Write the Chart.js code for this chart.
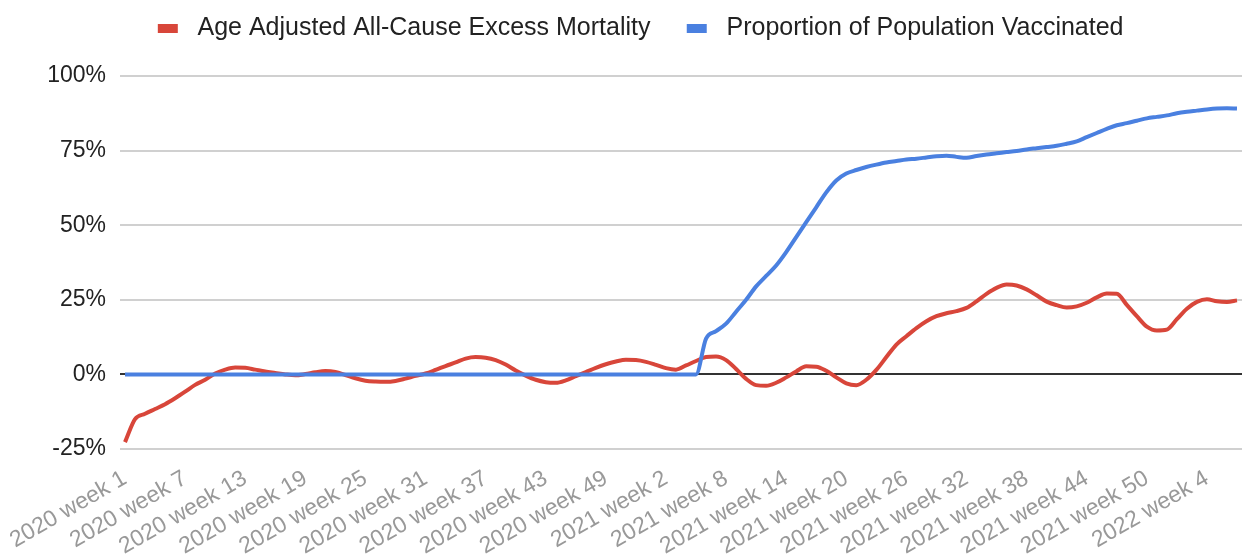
<!DOCTYPE html>
<html>
<head>
<meta charset="utf-8">
<script src="https://cdn.jsdelivr.net/npm/chart.js@4.4.1/dist/chart.umd.min.js"></script>
<style>
  body { margin: 0; background: #fff; }
  #wrap { width: 1242px; height: 560px; }
</style>
</head>
<body>
<div id="wrap"><canvas id="mortalityChart"></canvas></div>
<script>
// categories: ISO weeks from 2020 week 1 to 2022 week 7
const years = [2020, 2021, 2022];
const weeksInYear = [53, 52, 7];
const weekLabels = [];
years.forEach((y, k) => {
    for (let w = 1; w <= weeksInYear[k]; w++) weekLabels.push(y + ' week ' + w);
});

const excessMortality = [
    -22.7, -15, -13.2, -11.6, -10, -8, -5.8, -3.5, -1.8, 0.3,
    1.6, 2.3, 2.2, 1.6, 1.0, 0.5, 0, -0.3, 0.1, 0.7,
    1.1, 0.8, -0.2, -1.3, -2.1, -2.4, -2.5, -2.2, -1.4, -0.5,
    0.3, 1.5, 2.8, 4.0, 5.3, 5.8, 5.6, 4.8, 3.3, 1.3,
    -0.4, -1.8, -2.6, -2.8, -2.0, -0.6, 0.8, 2.2, 3.4, 4.3,
    4.9, 4.8, 4.2, 3.2, 2.1, 1.6, 3.0, 4.5, 5.8, 6.0,
    4.8, 1.8, -1.5, -3.6, -3.8, -2.8, -1.0, 1.0, 2.7, 2.6,
    1.2, -1.0, -3.0, -3.6, -1.8, 1.5, 5.8, 10.0, 12.8, 15.5,
    17.8, 19.5, 20.5, 21.2, 22.3, 24.5, 27, 29, 30.1, 29.8,
    28.5, 26.5, 24.4, 23.2, 22.4, 22.8, 24, 25.8, 27.1, 27,
    23.3, 19.5, 16, 14.7, 15, 18.5, 22, 24.3, 25.2, 24.5,
    24.3, 24.8
];

const vaccinated = [
    0, 0, 0, 0, 0, 0, 0, 0, 0, 0,
    0, 0, 0, 0, 0, 0, 0, 0, 0, 0,
    0, 0, 0, 0, 0, 0, 0, 0, 0, 0,
    0, 0, 0, 0, 0, 0, 0, 0, 0, 0,
    0, 0, 0, 0, 0, 0, 0, 0, 0, 0,
    0, 0, 0, 0, 0, 0, 0, 0, 12, 14.5,
    17, 21, 25, 29.5, 33, 36.5, 41, 46, 51, 56,
    61, 65, 67.3, 68.5, 69.5, 70.3, 71, 71.5, 72, 72.3,
    72.7, 73.1, 73.3, 72.9, 72.6, 73.2, 73.7, 74.1, 74.5, 74.9,
    75.4, 75.8, 76.2, 76.6, 77.3, 78.1, 79.5, 80.9, 82.3, 83.5,
    84.2, 85, 85.8, 86.3, 86.8, 87.5, 88, 88.4, 88.8, 89.1,
    89.2, 89.1
];

const yTicks = [-25, 0, 25, 50, 75, 100];
const labelEvery = 6;

const fontFamily = '"Liberation Sans", Arial, sans-serif';
const red = '#d8463a';
const blue = '#4a80e0';

// legend swatch: 20x9 bar placed inside a wider transparent image,
// so the gap to the text and between items matches the original
function swatch(color) {
    const c = document.createElement('canvas');
    c.width = 46;
    c.height = 9;
    const g = c.getContext('2d');
    g.fillStyle = color;
    g.fillRect(21, 0, 20, 9);
    return c;
}

// extra space under the legend so the plot starts lower
const legendGap = {
    id: 'legendGap',
    beforeLayout(chart) {
        const legend = chart.legend;
        if (!legend || legend._gapPatched) return;
        const fit = legend.fit;
        legend.fit = function() {
            fit.call(this);
            this.height += 25;
        };
        legend._gapPatched = true;
    }
};

const ctx = document.getElementById('mortalityChart').getContext('2d');
const chart = new Chart(ctx, {
    type: 'line',
    data: {
        labels: weekLabels,
        datasets: [{
            label: 'Age Adjusted All-Cause Excess Mortality',
            data: excessMortality,
            borderColor: red,
            backgroundColor: red,
            borderWidth: 4,
            pointRadius: 0,
            pointStyle: swatch(red),
            cubicInterpolationMode: 'monotone',
            order: 1
        }, {
            label: 'Proportion of Population Vaccinated',
            data: vaccinated,
            borderColor: blue,
            backgroundColor: blue,
            borderWidth: 4,
            pointRadius: 0,
            pointStyle: swatch(blue),
            cubicInterpolationMode: 'monotone',
            order: 0
        }]
    },
    options: {
        responsive: true,
        maintainAspectRatio: false,
        animation: false,
        layout: {
            padding: { top: 3, right: 0, bottom: 0, left: 16 }
        },
        scales: {
            x: {
                offset: true,
                grid: { display: false },
                border: { display: false },
                ticks: {
                    autoSkip: false,
                    maxRotation: 30,
                    minRotation: 30,
                    padding: 8,
                    color: '#999',
                    font: { family: fontFamily, size: 23 },
                    callback: function(value, index) {
                        return index % labelEvery === 0 ? this.getLabelForValue(value) : '';
                    }
                },
                afterFit: function(scale) {
                    scale.height = 111;
                    scale.paddingLeft = 0;
                    scale.paddingRight = 0;
                }
            },
            y: {
                min: yTicks[0],
                max: yTicks[yTicks.length - 1],
                border: { display: false },
                grid: {
                    drawTicks: false,
                    lineWidth: 2,
                    color: function(c) {
                        return c.tick && c.tick.value === 0 ? '#333' : '#d0d0d0';
                    }
                },
                afterBuildTicks: function(scale) {
                    scale.ticks = yTicks.map(v => ({ value: v }));
                },
                ticks: {
                    padding: 14,
                    color: '#222',
                    font: { family: fontFamily, size: 23 },
                    callback: function(value) {
                        return value + '%';
                    }
                },
                afterFit: function(scale) {
                    scale.width = 104;
                }
            }
        },
        plugins: {
            legend: {
                display: true,
                position: 'top',
                labels: {
                    usePointStyle: true,
                    pointStyleWidth: 50.5,
                    padding: 13,
                    color: '#222',
                    font: { family: fontFamily, size: 25 },
                    sort: (a, b) => a.datasetIndex - b.datasetIndex
                }
            },
            tooltip: { enabled: false }
        }
    },
    plugins: [legendGap]
});
</script>
</body>
</html>
